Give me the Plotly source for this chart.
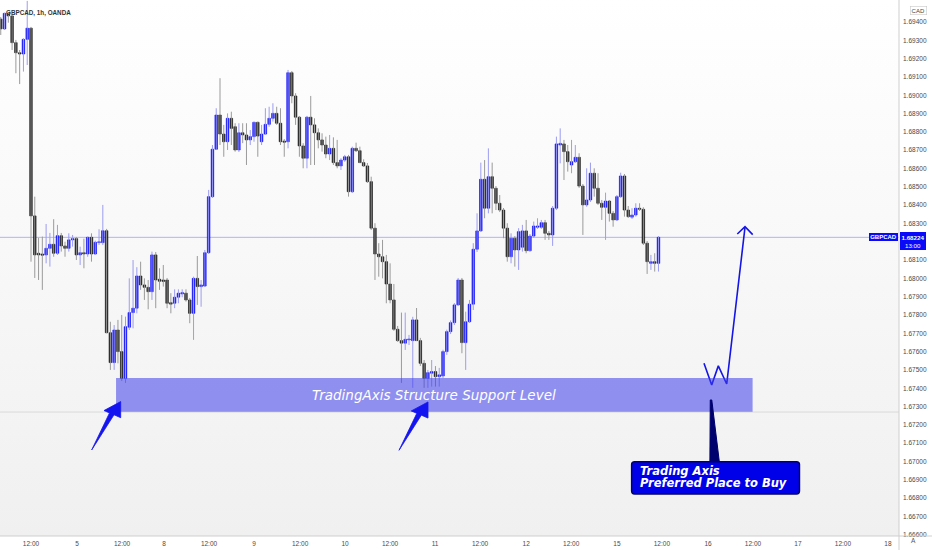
import base64
import plotly.graph_objects as go

# ---------------- data (GBPCAD 1h, OANDA) ----------------
opens = [1.69416,1.69362,1.69447,1.69433,1.69287,1.69232,1.69225,1.69305,1.69366,1.68341,
1.68137,1.68133,1.68128,1.68164,1.68186,1.68137,1.68233,1.68177,1.68164,1.68210,
1.68217,1.68128,1.68140,1.68133,1.68224,1.68133,1.68195,1.68195,1.68260,1.67703,
1.67540,1.67718,1.67600,1.67454,1.67733,1.67813,1.67837,1.68013,1.67964,1.67951,
1.67927,1.68128,1.67995,1.67991,1.67991,1.67867,1.67864,1.67897,1.67915,1.67919,
1.67882,1.67809,1.68000,1.67955,1.67958,1.68140,1.68446,1.68705,1.68892,1.68788,
1.68746,1.68874,1.68828,1.68701,1.68795,1.68783,1.68756,1.68774,1.68852,1.68746,
1.68788,1.68841,1.68874,1.68901,1.68847,1.68750,1.68746,1.69123,1.68996,1.68880,
1.68723,1.68656,1.68880,1.68838,1.68795,1.68756,1.68728,1.68679,1.68710,1.68632,
1.68614,1.68646,1.68664,1.68473,1.68710,1.68697,1.68632,1.68614,1.68528,1.68274,
1.68133,1.68118,1.68091,1.67969,1.67882,1.67722,1.67660,1.67646,1.67664,1.67660,
1.67773,1.67660,1.67536,1.67454,1.67482,1.67491,1.67463,1.67467,1.67600,1.67709,
1.67758,1.67855,1.67991,1.67649,1.67763,1.67859,1.68159,1.68259,1.68541,1.68383,
1.68555,1.68492,1.68410,1.68373,1.68274,1.68118,1.68219,1.68155,1.68170,1.68259,
1.68151,1.68231,1.68279,1.68279,1.68304,1.68246,1.68237,1.68383,1.68728,1.68734,
1.68692,1.68619,1.68637,1.68661,1.68504,1.68401,1.68428,1.68574,1.68492,1.68410,
1.68388,1.68422,1.68355,1.68319,1.68446,1.68559,1.68373,1.68334,1.68346,1.68383,
1.68377,1.68192,1.68082,1.68091,1.68082]

highs = [1.69427,1.69451,1.69454,1.69438,1.69302,1.69247,1.69311,1.69515,1.69373,1.68446,
1.68221,1.68228,1.68297,1.68248,1.68323,1.68292,1.68248,1.68200,1.68246,1.68237,
1.68226,1.68173,1.68217,1.68228,1.68246,1.68206,1.68268,1.68401,1.68270,1.67763,
1.67745,1.67773,1.67800,1.67791,1.68000,1.68100,1.68061,1.68091,1.68000,1.67991,
1.68146,1.68144,1.68055,1.68073,1.68002,1.67919,1.67940,1.67940,1.67940,1.67940,
1.67893,1.68009,1.68122,1.67991,1.68155,1.68483,1.68728,1.68929,1.69093,1.68838,
1.68901,1.68910,1.68847,1.68847,1.68847,1.68847,1.68810,1.68856,1.68856,1.68838,
1.68929,1.68937,1.68956,1.68937,1.68929,1.68761,1.69138,1.69132,1.69011,1.68887,
1.68738,1.68887,1.68996,1.68874,1.68819,1.68792,1.68774,1.68783,1.68770,1.68756,
1.68656,1.68674,1.68674,1.68719,1.68741,1.68719,1.68650,1.68630,1.68555,1.68301,
1.68192,1.68210,1.68128,1.68082,1.67969,1.67740,1.67813,1.67813,1.67691,1.67790,
1.67838,1.67675,1.67554,1.67500,1.67554,1.67521,1.67511,1.67610,1.67720,1.67770,
1.67865,1.68002,1.68002,1.67818,1.67882,1.68192,1.68355,1.68632,1.68646,1.68710,
1.68632,1.68504,1.68455,1.68384,1.68301,1.68246,1.68231,1.68274,1.68292,1.68319,
1.68242,1.68310,1.68328,1.68319,1.68319,1.68259,1.68395,1.68774,1.68819,1.68756,
1.68728,1.68756,1.68728,1.68683,1.68515,1.68601,1.68632,1.68601,1.68574,1.68428,
1.68468,1.68428,1.68368,1.68455,1.68577,1.68570,1.68395,1.68383,1.68410,1.68410,
1.68388,1.68204,1.68128,1.68137,1.68231]

lows = [1.69329,1.69356,1.69396,1.69247,1.69120,1.69061,1.69129,1.69165,1.68091,1.68002,
1.67991,1.67937,1.68082,1.68064,1.68118,1.68128,1.68146,1.68118,1.68146,1.68173,
1.68100,1.68073,1.68055,1.68118,1.68091,1.68128,1.68182,1.68182,1.67700,1.67500,
1.67500,1.67536,1.67440,1.67429,1.67718,1.67727,1.67809,1.67937,1.67882,1.67831,
1.67882,1.67837,1.67937,1.67955,1.67837,1.67809,1.67837,1.67864,1.67897,1.67873,
1.67755,1.67664,1.67855,1.67845,1.67953,1.68133,1.68439,1.68701,1.68728,1.68664,
1.68701,1.68728,1.68692,1.68690,1.68738,1.68619,1.68728,1.68746,1.68664,1.68728,
1.68783,1.68828,1.68856,1.68838,1.68728,1.68664,1.68710,1.68956,1.68838,1.68664,
1.68601,1.68601,1.68619,1.68619,1.68710,1.68692,1.68656,1.68646,1.68619,1.68601,
1.68592,1.68636,1.68446,1.68466,1.68690,1.68630,1.68608,1.68521,1.68264,1.67991,
1.68009,1.68000,1.67864,1.67864,1.67713,1.67653,1.67429,1.67609,1.67636,1.67402,
1.67658,1.67521,1.67402,1.67402,1.67409,1.67409,1.67409,1.67456,1.67582,1.67696,
1.67745,1.67849,1.67591,1.67500,1.67756,1.67827,1.68144,1.68253,1.68328,1.68355,
1.68355,1.68373,1.68362,1.68219,1.68091,1.68082,1.68064,1.68046,1.68146,1.68137,
1.68146,1.68221,1.68270,1.68270,1.68210,1.68210,1.68177,1.68373,1.68628,1.68537,
1.68583,1.68574,1.68630,1.68494,1.68237,1.68391,1.68417,1.68446,1.68401,1.68319,
1.68210,1.68310,1.68282,1.68313,1.68439,1.68337,1.68330,1.68324,1.68337,1.68368,
1.68182,1.68024,1.68046,1.68037,1.68037]

closes = [1.69362,1.69447,1.69433,1.69287,1.69232,1.69225,1.69305,1.69366,1.68341,1.68128,
1.68128,1.68126,1.68164,1.68186,1.68137,1.68233,1.68177,1.68164,1.68210,1.68217,
1.68128,1.68140,1.68133,1.68224,1.68133,1.68197,1.68200,1.68260,1.67703,1.67540,
1.67718,1.67600,1.67454,1.67736,1.67813,1.67837,1.68013,1.67964,1.67951,1.67927,
1.68128,1.67991,1.67984,1.67983,1.67864,1.67859,1.67897,1.67919,1.67922,1.67882,
1.67809,1.68000,1.67955,1.67964,1.68140,1.68446,1.68705,1.68892,1.68788,1.68746,
1.68874,1.68819,1.68701,1.68795,1.68783,1.68756,1.68774,1.68852,1.68777,1.68788,
1.68841,1.68874,1.68901,1.68847,1.68746,1.68743,1.69123,1.68996,1.68880,1.68723,
1.68656,1.68880,1.68838,1.68795,1.68756,1.68728,1.68679,1.68710,1.68632,1.68614,
1.68646,1.68664,1.68473,1.68710,1.68697,1.68632,1.68614,1.68528,1.68274,1.68133,
1.68118,1.68091,1.67969,1.67882,1.67722,1.67660,1.67646,1.67667,1.67669,1.67773,
1.67660,1.67536,1.67454,1.67485,1.67491,1.67463,1.67473,1.67600,1.67709,1.67758,
1.67855,1.67991,1.67649,1.67763,1.67859,1.68159,1.68259,1.68541,1.68383,1.68555,
1.68492,1.68410,1.68373,1.68274,1.68118,1.68219,1.68155,1.68255,1.68259,1.68151,
1.68231,1.68286,1.68286,1.68304,1.68246,1.68237,1.68383,1.68734,1.68737,1.68692,
1.68637,1.68637,1.68661,1.68504,1.68401,1.68428,1.68574,1.68492,1.68410,1.68388,
1.68422,1.68355,1.68319,1.68446,1.68559,1.68373,1.68337,1.68346,1.68383,1.68377,
1.68192,1.68091,1.68091,1.68082,1.68224]

tick_pos = [8, 20.2, 32.1, 43.2, 55.1, 67.0, 79.2, 91.1, 103.0, 114.9,
            126.8, 139.0, 150.9, 163.0, 174.9, 187.1, 199.0, 210.9, 222.8, 234.7]
tick_text = ["12:00", "5", "12:00", "8", "12:00", "9", "12:00", "10", "12:00", "11",
             "12:00", "12", "12:00", "15", "12:00", "16", "12:00", "17", "12:00", "18"]

# price-axis ticks (1.68200 sits under the live price tag, so it is not shown)
price_ticks = [1.666, 1.667, 1.668, 1.669, 1.670, 1.671, 1.672, 1.673, 1.674, 1.675,
               1.676, 1.677, 1.678, 1.679, 1.680, 1.681, 1.683, 1.684, 1.685,
               1.686, 1.687, 1.688, 1.689, 1.690, 1.691, 1.692, 1.693, 1.694, 1.695]
price_tick_text = ["%.5f" % v for v in price_ticks]

last_price = closes[-1]
support_top = 1.67456
support_bottom = 1.67272

# ---------------- figure ----------------
n = len(closes)
idx = list(range(n))
X_MIN, X_MAX = -0.2, 237.63
Y_MIN, Y_MAX = 1.66593, 1.6952

BLUE = "#0a0af8"
BLACK = "#141414"

fig = go.Figure()

up = [i for i in idx if closes[i] >= opens[i]]
dn = [i for i in idx if closes[i] < opens[i]]

def wick_xy(ids):
    xs, ys = [], []
    for i in ids:
        xs += [i, i, None]
        ys += [lows[i], highs[i], None]
    return xs, ys

for ids, col in ((dn, BLACK), (up, BLUE)):
    fig.add_trace(go.Bar(
        x=ids, base=[opens[i] for i in ids], y=[closes[i] - opens[i] for i in ids],
        width=0.68, marker=dict(color=col, line=dict(color=col, width=0.6)),
        hoverinfo="skip", showlegend=False))

wx, wy = wick_xy(dn)
fig.add_trace(go.Scatter(x=wx, y=wy, mode="lines", line=dict(color="#9a9a9a", width=1),
                         hoverinfo="skip", showlegend=False))
wx, wy = wick_xy(up)
fig.add_trace(go.Scatter(x=wx, y=wy, mode="lines", line=dict(color="#9c9cf2", width=1),
                         hoverinfo="skip", showlegend=False))

# W projection path + arrow
w_x = [186.04, 188.08, 189.83, 192.05, 196.89]
w_y = [1.67536, 1.67418, 1.67522, 1.67423, 1.68279]
fig.add_trace(go.Scatter(x=w_x, y=w_y, mode="lines", line=dict(color="#1515e6", width=1.6),
                         hoverinfo="skip", showlegend=False))
fig.add_trace(go.Scatter(x=[194.85, 196.89, 198.93], y=[1.68242, 1.68282, 1.68239], mode="lines",
                         line=dict(color="#1515e6", width=1.6), hoverinfo="skip", showlegend=False))

shapes = []
shapes.append(dict(type="line", xref="paper", x0=0, x1=1, yref="y", y0=support_bottom - 0.00002,
                   y1=support_bottom - 0.00002, line=dict(color="#d9d9d9", width=1), layer="below"))
shapes.append(dict(type="line", xref="paper", x0=0, x1=1, yref="y", y0=last_price, y1=last_price,
                   line=dict(color="rgba(90,90,255,0.45)", width=1), layer="below"))
shapes.append(dict(type="rect", xref="x", yref="y", x0=30.5, x1=198.9, y0=support_bottom, y1=support_top,
                   fillcolor="rgba(60,60,235,0.55)", line=dict(width=0), layer="above"))

def arrow_path(dx, dy):
    pts = [(24.06, 1.67063), (28.77, 1.67265), (27.31, 1.67278), (31.73, 1.67327),
           (31.73, 1.67239), (29.96, 1.67255)]
    return "M " + " L ".join(f"{x + dx},{y + dy}" for x, y in pts) + " Z"

for dx, dy in ((0, 0), (81.3, -0.00002)):
    shapes.append(dict(type="path", xref="x", yref="y", path=arrow_path(dx, dy),
                       fillcolor="#1414f0", line=dict(color="#1414f0", width=0.8), layer="above"))

shapes.append(dict(type="path", xref="x", yref="y",
                   path="M 187.7,1.67336 L 188.1,1.67336 L 190.1,1.66998 L 187.6,1.66998 Z",
                   fillcolor="#00006e", line=dict(color="#00006e", width=1), layer="above"))
x0, x1, y0, y1 = 166.9, 211.3, 1.66823, 1.66999
rx, ry = 0.8, 0.00016
box = (f"M {x0+rx},{y0} L {x1-rx},{y0} Q {x1},{y0} {x1},{y0+ry} L {x1},{y1-ry} "
       f"Q {x1},{y1} {x1-rx},{y1} L {x0+rx},{y1} Q {x0},{y1} {x0},{y1-ry} L {x0},{y0+ry} "
       f"Q {x0},{y0} {x0+rx},{y0} Z")
shapes.append(dict(type="path", xref="x", yref="y", path=box, fillcolor="#0000e8",
                   line=dict(color="#00006a", width=1.5), layer="above"))

shapes.append(dict(type="line", xref="paper", yref="paper", x0=1, x1=1, y0=-14/536, y1=1,
                   line=dict(color="#cfcfcf", width=1)))
shapes.append(dict(type="line", xref="paper", yref="paper", x0=0, x1=932/899, y0=0, y1=0,
                   line=dict(color="#cfcfcf", width=1)))

PX = 1 / 899   # one pixel in paper-x
PY = 1 / 536   # one pixel in paper-y

annotations = [
    dict(text="GBPCAD", x=1 - 1 * PX, y=last_price, xref="paper", yref="y", showarrow=False,
         xanchor="right", yanchor="middle", yshift=0.5, bgcolor="#0a0af8", borderpad=1.2,
         borderwidth=0,
         font=dict(family="Liberation Sans", size=6, color="white", weight="bold")),
    dict(text="<b>1.68224</b><br>13:00", x=1 + 0.5 * PX, y=last_price, xref="paper", yref="y",
         showarrow=False, xanchor="left", yanchor="top", yshift=5, align="center",
         bgcolor="#0a0af8", borderpad=1.5, borderwidth=0,
         font=dict(family="Liberation Sans", size=6.2, color="white")),
    dict(text="TradingAxis Structure Support Level", x=114.6, y=1.67363, xref="x", yref="y",
         showarrow=False, font=dict(family="DejaVu Sans", size=13.5, color="white", style="italic")),
    dict(text="Trading Axis", x=168.5, y=1.66949, xref="x", yref="y", xanchor="left",
         showarrow=False, font=dict(family="DejaVu Sans", size=11.5, color="white",
                                    style="italic", weight="bold")),
    dict(text="Preferred Place to Buy", x=168.5, y=1.66881, xref="x", yref="y", xanchor="left",
         showarrow=False, font=dict(family="DejaVu Sans", size=11.5, color="white",
                                    style="italic", weight="bold")),
    dict(text="GBPCAD, 1h, OANDA", x=4 * PX, y=1 - 7 * PY, xref="paper", yref="paper",
         xanchor="left", showarrow=False,
         font=dict(family="Liberation Sans", size=6.3, color="#333333", weight="bold")),
    dict(text="CAD", x=910 * PX, y=1 - 6.3 * PY, xref="paper", yref="paper", showarrow=False,
         xanchor="left", bgcolor="white", bordercolor="#c8c8c8", borderwidth=0.6, borderpad=1,
         font=dict(family="Liberation Sans", size=6, color="#444")),
    dict(text="A", x=918 * PX, y=-10 * PY, xref="paper", yref="paper", showarrow=False,
         font=dict(family="Liberation Sans", size=6.5, color="#555")),
]

# soft vertical background gradient (SVG data image)
svg = ('<svg xmlns="http://www.w3.org/2000/svg" width="10" height="100" preserveAspectRatio="none">'
       '<defs><linearGradient id="g" x1="0" y1="0" x2="0" y2="1">'
       '<stop offset="0" stop-color="#ffffff"/><stop offset="1" stop-color="#f0f0f0"/>'
       '</linearGradient></defs><rect width="10" height="100" fill="url(#g)"/></svg>')
bg_uri = "data:image/svg+xml;base64," + base64.b64encode(svg.encode()).decode()

fig.update_layout(
    width=932, height=550,
    margin=dict(l=0, r=33, t=0, b=14, autoexpand=False),
    paper_bgcolor="white", plot_bgcolor="white",
    barmode="overlay", showlegend=False,
    shapes=shapes, annotations=annotations,
    images=[dict(source=bg_uri, xref="paper", yref="paper", x=0, y=1, sizex=1, sizey=1,
                 xanchor="left", yanchor="top", sizing="stretch", layer="below")],
    xaxis=dict(range=[X_MIN, X_MAX], tickmode="array", tickvals=tick_pos, ticktext=tick_text,
               showgrid=False, zeroline=False, showline=False, ticks="", automargin=False,
               ticklabelstandoff=2,
               tickfont=dict(family="Liberation Sans", size=6.5, color="#4a4a4a"), fixedrange=True),
    yaxis=dict(range=[Y_MIN, Y_MAX], side="right", tickmode="array", tickvals=price_ticks,
               ticktext=price_tick_text, showgrid=False, zeroline=False, automargin=False,
               showline=False, ticks="", ticklabelstandoff=3,
               tickfont=dict(family="Liberation Sans", size=6.5, color="#4a4a4a"),
               fixedrange=True),
)

fig.write_html("out.html", config={"displayModeBar": False, "staticPlot": True},
               post_script="document.body.style.margin='0';")
